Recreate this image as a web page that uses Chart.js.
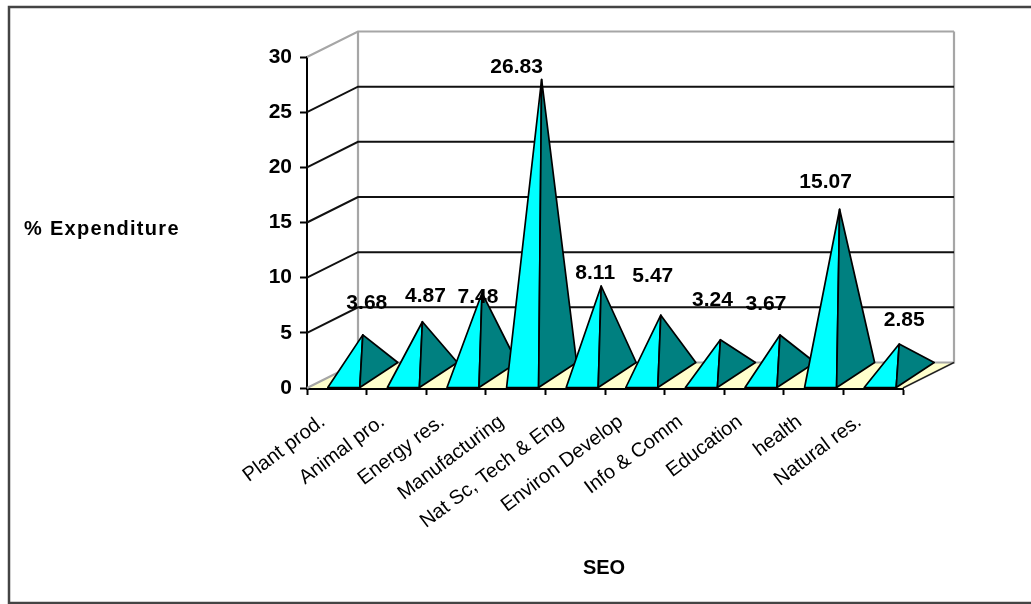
<!DOCTYPE html>
<html>
<head>
<meta charset="utf-8">
<style>
  html, body { margin: 0; padding: 0; background: #fff; }
  canvas { display: block; }
</style>
<script src="https://cdn.jsdelivr.net/npm/chart.js@4"></script>
</head>
<body>
<canvas id="chart" width="1031" height="604"></canvas>
<script>
// Share of expenditure by socio-economic objective
const categories = ['Plant prod.', 'Animal pro.', 'Energy res.', 'Manufacturing', 'Nat Sc, Tech & Eng',
                    'Environ Develop', 'Info & Comm', 'Education', 'health', 'Natural res.'];
const expenditure = [3.68, 4.87, 7.48, 26.83, 8.11, 5.47, 3.24, 3.67, 15.07, 2.85];
const yTicks = [0, 5, 10, 15, 20, 25, 30];
// Hand placement of each value label relative to its pyramid's tip
const labelNudgeX = [4, 3, -4, -25, -6, -8, -8, -14, -14, 5];
const labelNudgeY = [-32, -26, 4.5, -12, -13, -39, -40, -31, -27, -24];

const WALL_DX = 51, WALL_DY = -25.5;     // offset of the back wall from the front plane
const BASE_DX = 38, BASE_DY = -25;       // depth vector of a pyramid's square base
const BAR_SHIFT = 7;                     // pyramids sit right of the slot centre
const FAMILY = '"Liberation Sans", Arial, sans-serif';
const NUM_FONT = 'bold 21px ' + FAMILY;
const TITLE_FONT = 'bold 20px ' + FAMILY;

const scene3d = {
  id: 'scene3d',
  beforeDatasetsDraw(chart) {
    const { ctx, scales: { x, y } } = chart;
    const left = x.left, right = x.right;
    const y0 = y.getPixelForValue(0);
    const yTop = y.getPixelForValue(30);
    ctx.save();

    // floor
    ctx.beginPath();
    ctx.moveTo(left, y0);
    ctx.lineTo(right, y0);
    ctx.lineTo(right + WALL_DX, y0 + WALL_DY);
    ctx.lineTo(left + WALL_DX, y0 + WALL_DY);
    ctx.closePath();
    ctx.fillStyle = '#ffffcc';
    ctx.fill();

    // wall edges
    ctx.strokeStyle = '#a6a6a6';
    ctx.lineWidth = 2.2;
    ctx.lineJoin = 'miter';
    ctx.beginPath();
    ctx.moveTo(left + WALL_DX, yTop + WALL_DY);
    ctx.lineTo(left + WALL_DX, y0 + WALL_DY);
    ctx.lineTo(right + WALL_DX, y0 + WALL_DY);
    ctx.lineTo(right + WALL_DX, yTop + WALL_DY);
    ctx.moveTo(left, y0);
    ctx.lineTo(left + WALL_DX, y0 + WALL_DY);
    ctx.stroke();

    // gridlines across the side and back walls
    for (const v of yTicks) {
      if (v === 0) continue;
      const py = y.getPixelForValue(v);
      const top = v === 30;
      ctx.strokeStyle = top ? '#a6a6a6' : '#111';
      ctx.lineWidth = top ? 2.2 : 2;
      ctx.beginPath();
      ctx.moveTo(left, py);
      ctx.lineTo(left + WALL_DX, py + WALL_DY);
      ctx.lineTo(right + WALL_DX, py + WALL_DY);
      ctx.stroke();
    }

    // right edge of the floor
    ctx.strokeStyle = '#222';
    ctx.lineWidth = 1.4;
    ctx.beginPath();
    ctx.moveTo(right, y0);
    ctx.lineTo(right + WALL_DX, y0 + WALL_DY);
    ctx.stroke();
    ctx.restore();
  },
  afterDatasetsDraw(chart) {
    const { ctx } = chart;
    const bars = chart.getDatasetMeta(0).data;
    ctx.save();
    ctx.lineJoin = 'round';
    ctx.strokeStyle = '#000';
    ctx.lineWidth = 1.7;

    const apexes = bars.map(el => {
      const fl = el.x + BAR_SHIFT - el.width / 2;
      const fr = el.x + BAR_SHIFT + el.width / 2;
      const apexX = (fl + fr + BASE_DX) / 2;
      const apexY = el.y + BASE_DY / 2;
      const base = el.base;

      // left face
      ctx.fillStyle = '#00ffff';
      ctx.beginPath();
      ctx.moveTo(fl, base);
      ctx.lineTo(fr, base);
      ctx.lineTo(apexX, apexY);
      ctx.closePath();
      ctx.fill();
      ctx.stroke();

      // right face
      ctx.fillStyle = '#008080';
      ctx.beginPath();
      ctx.moveTo(fr, base);
      ctx.lineTo(fr + BASE_DX, base + BASE_DY);
      ctx.lineTo(apexX, apexY);
      ctx.closePath();
      ctx.fill();
      ctx.stroke();
      return { x: apexX, y: apexY };
    });

    // value labels
    ctx.font = NUM_FONT;
    ctx.fillStyle = '#000';
    ctx.textAlign = 'center';
    ctx.textBaseline = 'middle';
    apexes.forEach((a, i) => {
      ctx.fillText(expenditure[i].toFixed(2), a.x + labelNudgeX[i], a.y + labelNudgeY[i]);
    });
    ctx.restore();
  },
  afterDraw(chart) {
    const { ctx } = chart;
    ctx.save();
    // chart frame: runs off the right edge of the page
    ctx.strokeStyle = '#444';
    ctx.lineWidth = 2.5;
    ctx.beginPath();
    ctx.moveTo(1031, 7);
    ctx.lineTo(9, 7);
    ctx.lineTo(9, 603);
    ctx.lineTo(1031, 603);
    ctx.stroke();
    // axis titles
    ctx.fillStyle = '#000';
    ctx.font = TITLE_FONT;
    ctx.textBaseline = 'middle';
    ctx.textAlign = 'left';
    ctx.letterSpacing = '1.3px';
    ctx.fillText('% Expenditure', 24, 229);
    ctx.letterSpacing = '0px';
    ctx.textAlign = 'center';
    ctx.fillText('SEO', 604, 568);
    ctx.restore();
  }
};

new Chart(document.getElementById('chart'), {
  type: 'bar',
  data: {
    labels: categories,
    datasets: [{
      data: expenditure,
      backgroundColor: 'rgba(0,0,0,0)',
      borderWidth: 0,
      barPercentage: 0.537,
      categoryPercentage: 1
    }]
  },
  plugins: [scene3d],
  options: {
    responsive: false,
    animation: false,
    layout: { padding: { top: 57, right: 128, left: 0, bottom: 0 } },
    plugins: { legend: { display: false }, tooltip: { enabled: false }, title: { display: false } },
    scales: {
      x: {
        z: 1,
        afterFit(s) { s.height = 216; },
        border: { display: true, color: '#000', width: 3 },
        grid: { drawOnChartArea: false, drawTicks: true, tickLength: 7, tickColor: '#000', tickWidth: 2, offset: true },
        ticks: {
          autoSkip: false,
          minRotation: 37,
          maxRotation: 37,
          padding: 15,
          labelOffset: -14,
          color: '#000',
          font: { family: FAMILY, size: 20 }
        }
      },
      y: {
        z: 1,
        min: 0,
        max: 30,
        afterFit(s) { s.width = 307; },
        afterBuildTicks(s) { s.ticks = yTicks.map(value => ({ value })); },
        border: { display: true, color: '#000', width: 2 },
        grid: { drawOnChartArea: false, drawTicks: true, tickLength: 7, tickColor: '#000', tickWidth: 2 },
        ticks: {
          padding: 8,
          color: '#000',
          font: { family: FAMILY, size: 21, weight: 'bold' }
        }
      }
    }
  }
});
</script>
</body>
</html>
